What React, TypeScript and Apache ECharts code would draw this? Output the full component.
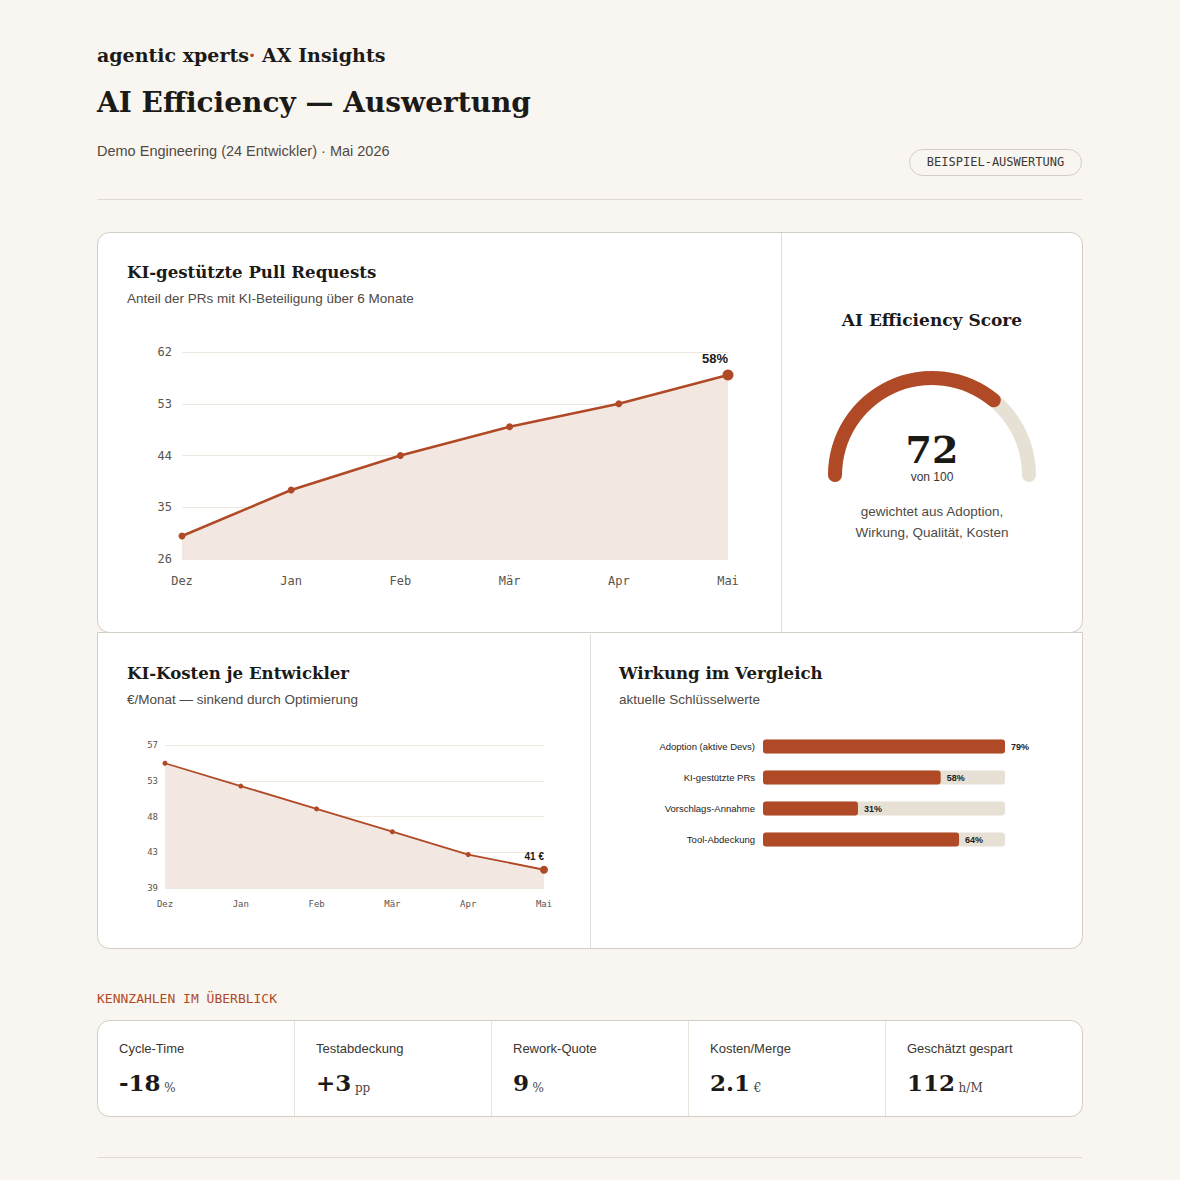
import React, { useEffect, useRef } from "react";
import * as echarts from "echarts";

// ---- data ----
const months = ["Dez", "Jan", "Feb", "Mär", "Apr", "Mai"];
const prShare = [30, 38, 44, 49, 53, 58];
const prAxis = { min: 26, max: 62, interval: 9 };
const costPerDev = [55, 52, 49, 46, 43, 41];
const costAxis = { min: 38.6, max: 57.4, interval: 4.7 };
const impactLabels = ["Adoption (aktive Devs)", "KI-gestützte PRs", "Vorschlags-Annahme", "Tool-Abdeckung"];
const impactValues = [79, 58, 31, 64];
const score = 72;
const scoreMax = 100;
const kpiLabels = ["Cycle-Time", "Testabdeckung", "Rework-Quote", "Kosten/Merge", "Geschätzt gespart"];
const kpiValues = ["-18", "+3", "9", "2.1", "112"];
const kpiUnits = ["%", "pp", "%", "€", "h/M"];

// ---- styles ----
const SERIF = '"DejaVu Serif", Georgia, serif';
const SANS = '"Liberation Sans", Arial, Helvetica, sans-serif';
const MONO = '"DejaVu Sans Mono", Menlo, monospace';
const BG = "#f9f6f1";
const INK = "#1c1a17";
const MUTED = "#4f4a44";
const ACCENT = "#b04a26";
const AREA = "#f3e8e1";
const TRACK = "#e6e0d5";
const BORDER = "#d3cec5";
const GRIDLINE = "#eee8de";

function text(x: number, y: number, t: string, o: any = {}) {
  return {
    type: "text",
    x,
    y,
    z: 10,
    silent: true,
    style: {
      text: t,
      fill: o.fill ?? INK,
      fontSize: o.size ?? 13,
      fontFamily: o.family ?? SANS,
      fontWeight: o.weight ?? "normal",
      align: o.align ?? "left",
      verticalAlign: "middle",
      rich: o.rich,
    },
  };
}

function hline(x1: number, x2: number, y: number, color: string) {
  return { type: "line", z: -5, silent: true, shape: { x1, y1: y, x2, y2: y }, style: { stroke: color, lineWidth: 1 } };
}
function vline(x: number, y1: number, y2: number, color: string) {
  return { type: "line", z: -4, silent: true, shape: { x1: x, y1, x2: x, y2 }, style: { stroke: color, lineWidth: 1 } };
}

function buildOption() {
  const lastPr = prShare.length - 1;
  const lastCost = costPerDev.length - 1;
  const impactMax = Math.max(...impactValues);

  const graphic: any[] = [
    { type: "rect", z: -20, silent: true, shape: { x: 0, y: 0, width: 1180, height: 1180 }, style: { fill: BG } },
    // header
    text(97, 55, "{a|agentic xperts}{d|·}{a| AX Insights}", {
      rich: {
        a: { fontSize: 19, fontFamily: SERIF, fontWeight: "bold", fill: INK },
        d: { fontSize: 19, fontFamily: SERIF, fontWeight: "bold", fill: ACCENT },
      },
    }),
    text(97, 102, "AI Efficiency — Auswertung", { size: 28, family: SERIF, weight: "bold" }),
    text(97, 151, "Demo Engineering (24 Entwickler) · Mai 2026", { size: 14.5, fill: MUTED }),
    {
      type: "rect", z: -5, silent: true,
      shape: { x: 909.5, y: 149.5, width: 172, height: 26, r: 13 },
      style: { fill: BG, stroke: BORDER, lineWidth: 1 },
    },
    text(995.5, 162, "BEISPIEL-AUSWERTUNG", { size: 12, family: MONO, fill: "#3c3833", align: "center" }),
    hline(97, 1082, 199.5, "#e0dbd2"),
    // cards
    {
      type: "rect", z: -10, silent: true,
      shape: { x: 97.5, y: 632.5, width: 985, height: 316, r: [0, 0, 12, 12] },
      style: { fill: "#ffffff", stroke: BORDER, lineWidth: 1 },
    },
    {
      type: "rect", z: -9, silent: true,
      shape: { x: 97.5, y: 232.5, width: 985, height: 400, r: 12 },
      style: { fill: "#ffffff", stroke: BORDER, lineWidth: 1 },
    },
    vline(781.5, 233, 632, "#e3dfd8"),
    vline(590.5, 634, 948, "#e3dfd8"),
    // card titles
    text(127, 272, "KI-gestützte Pull Requests", { size: 16.6, family: SERIF, weight: "bold" }),
    text(127, 298, "Anteil der PRs mit KI-Beteiligung über 6 Monate", { size: 13.5, fill: MUTED }),
    text(932, 320, "AI Efficiency Score", { size: 17, family: SERIF, weight: "bold", align: "center" }),
    text(932, 511, "gewichtet aus Adoption,", { size: 13.5, fill: MUTED, align: "center" }),
    text(932, 532, "Wirkung, Qualität, Kosten", { size: 13.5, fill: MUTED, align: "center" }),
    text(127, 673, "KI-Kosten je Entwickler", { size: 16.6, family: SERIF, weight: "bold" }),
    text(127, 699, "€/Monat — sinkend durch Optimierung", { size: 13.5, fill: MUTED }),
    text(619, 673, "Wirkung im Vergleich", { size: 16.6, family: SERIF, weight: "bold" }),
    text(619, 699, "aktuelle Schlüsselwerte", { size: 13.5, fill: MUTED }),
    // KPI section
    text(97, 998, "KENNZAHLEN IM ÜBERBLICK", { size: 13, family: MONO, fill: ACCENT }),
    {
      type: "rect", z: -10, silent: true,
      shape: { x: 97.5, y: 1020.5, width: 985, height: 96, r: 12 },
      style: { fill: "#ffffff", stroke: BORDER, lineWidth: 1 },
    },
    hline(97, 1082, 1157.5, "#e0dbd2"),
  ];

  const cellW = 197;
  kpiLabels.forEach((label, i) => {
    const x0 = 97 + i * cellW;
    if (i > 0) graphic.push(vline(x0 + 0.5, 1021, 1116, "#e8e4dc"));
    graphic.push(text(x0 + 22, 1048, label, { size: 13, fill: "#3a3631" }));
    graphic.push(
      text(x0 + 22, 1080, `{v|${kpiValues[i]}} {u|${kpiUnits[i]}}`, {
        rich: {
          v: { fontSize: 23, fontFamily: SERIF, fontWeight: "bold", fill: INK, verticalAlign: "bottom", lineHeight: 28 },
          u: { fontSize: 12, fontFamily: SERIF, fill: "#4a4540", verticalAlign: "bottom", lineHeight: 25 },
        },
      })
    );
  });

  const monoAxisLabel = (size: number, margin: number) => ({
    fontFamily: MONO,
    fontSize: size,
    color: "#5a544c",
    margin,
  });

  return {
    animation: false,
    backgroundColor: BG,
    graphic,
    grid: [
      { left: 182, right: 1180 - 728, top: 352, bottom: 1180 - 559, containLabel: false },
      { left: 165, right: 1180 - 544, top: 745, bottom: 1180 - 888, containLabel: false },
      { left: 763, right: 1180 - 1005, top: 731, bottom: 1180 - 855, containLabel: false },
    ],
    xAxis: [
      {
        gridIndex: 0, type: "category", data: months, boundaryGap: false,
        axisLine: { show: false }, axisTick: { show: false },
        axisLabel: monoAxisLabel(12, 16),
      },
      {
        gridIndex: 1, type: "category", data: months, boundaryGap: false,
        axisLine: { show: false }, axisTick: { show: false },
        axisLabel: monoAxisLabel(9, 11),
      },
      {
        gridIndex: 2, type: "value", min: 0, max: impactMax, show: false,
      },
    ],
    yAxis: [
      {
        gridIndex: 0, type: "value", min: prAxis.min, max: prAxis.max, interval: prAxis.interval,
        axisLine: { show: false }, axisTick: { show: false },
        axisLabel: monoAxisLabel(12, 10),
        splitLine: { lineStyle: { color: GRIDLINE, width: 1 } },
      },
      {
        gridIndex: 1, type: "value", min: costAxis.min, max: costAxis.max, interval: costAxis.interval,
        axisLine: { show: false }, axisTick: { show: false },
        axisLabel: { ...monoAxisLabel(9, 7), formatter: (v: number) => String(Math.round(v)) },
        splitLine: { lineStyle: { color: GRIDLINE, width: 1 } },
      },
      {
        gridIndex: 2, type: "category", data: impactLabels, inverse: true,
        axisLine: { show: false }, axisTick: { show: false },
        axisLabel: { fontFamily: SANS, fontSize: 9.5, color: "#222", margin: 8 },
      },
    ],
    series: [
      {
        type: "line", xAxisIndex: 0, yAxisIndex: 0,
        data: prShare.map((v, i) =>
          i === lastPr
            ? {
                value: v, symbolSize: 11,
                label: {
                  show: true, position: "top", distance: 5, align: "right",
                  formatter: "{c}%", fontFamily: SANS, fontSize: 13, fontWeight: "bold", color: INK,
                },
              }
            : v
        ),
        symbol: "circle", symbolSize: 7,
        lineStyle: { color: ACCENT, width: 2.5 },
        itemStyle: { color: ACCENT },
        areaStyle: { color: AREA, origin: "start", opacity: 1 },
        emphasis: { disabled: true },
        z: 3,
      },
      {
        type: "line", xAxisIndex: 1, yAxisIndex: 1,
        data: costPerDev.map((v, i) =>
          i === lastCost
            ? {
                value: v, symbolSize: 8,
                label: {
                  show: true, position: "top", distance: 4, align: "right",
                  formatter: "{c} €", fontFamily: SANS, fontSize: 10, fontWeight: "bold", color: INK,
                },
              }
            : v
        ),
        symbol: "circle", symbolSize: 5,
        lineStyle: { color: ACCENT, width: 1.8 },
        itemStyle: { color: ACCENT },
        areaStyle: { color: AREA, origin: "start", opacity: 1 },
        emphasis: { disabled: true },
        z: 3,
      },
      {
        type: "bar", xAxisIndex: 2, yAxisIndex: 2,
        data: impactValues,
        barWidth: 14,
        showBackground: true,
        backgroundStyle: { color: TRACK, borderRadius: 3 },
        itemStyle: { color: ACCENT, borderRadius: 3 },
        label: {
          show: true, position: "right", distance: 6, formatter: "{c}%",
          fontFamily: SANS, fontSize: 9, fontWeight: "bold", color: "#222",
        },
        emphasis: { disabled: true },
      },
      {
        type: "gauge",
        center: [932, 475],
        radius: 104,
        startAngle: 180,
        endAngle: 0,
        min: 0,
        max: scoreMax,
        progress: { show: true, width: 14, roundCap: true, itemStyle: { color: ACCENT } },
        axisLine: { roundCap: true, lineStyle: { width: 14, color: [[1, TRACK]] } },
        axisTick: { show: false },
        splitLine: { show: false },
        axisLabel: { show: false },
        pointer: { show: false },
        anchor: { show: false },
        title: { show: true, offsetCenter: [0, 2], fontSize: 12, fontFamily: SANS, color: "#3a3631" },
        detail: {
          show: true, offsetCenter: [0, -26], fontSize: 38, fontFamily: SERIF, fontWeight: "bold",
          color: INK, formatter: "{value}",
        },
        data: [{ value: score, name: `von ${scoreMax}` }],
      },
    ],
  };
}

export default function App() {
  const ref = useRef<HTMLDivElement | null>(null);
  useEffect(() => {
    if (!ref.current) return;
    const chart = echarts.init(ref.current, undefined, { renderer: "svg" });
    chart.setOption(buildOption() as any);
    return () => chart.dispose();
  }, []);
  return (
    <div
      ref={ref}
      style={{ position: "absolute", left: 0, top: 0, width: 1180, height: 1180, background: BG }}
    />
  );
}
